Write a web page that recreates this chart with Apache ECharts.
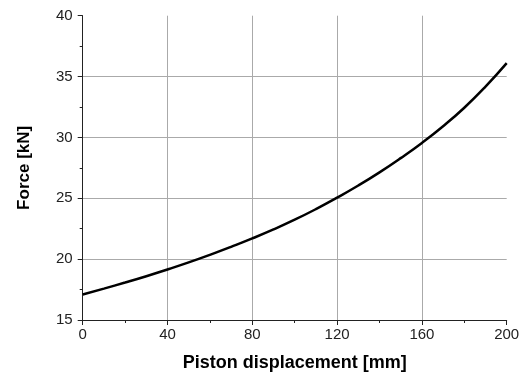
<!DOCTYPE html>
<html>
<head>
<meta charset="utf-8">
<script src="https://cdn.jsdelivr.net/npm/echarts@6/dist/echarts.min.js"></script>
<style>html,body{margin:0;padding:0;background:#fff}#c{width:527px;height:377px}</style>
</head>
<body>
<div id="c"></div>
<script>
const displacement = [0, 10, 20, 30, 40, 50, 60, 70, 80, 90, 100, 110, 120, 130, 140, 150, 160, 170, 180, 190, 200];
const force = [17.1, 17.58, 18.08, 18.6, 19.15, 19.73, 20.35, 21.01, 21.7, 22.44, 23.24, 24.11, 25.05, 26.05, 27.13, 28.3, 29.55, 30.92, 32.44, 34.17, 36.1];
const xTitle = 'Piston displacement [mm]';
const yTitle = 'Force [kN]';

const chart = echarts.init(document.getElementById('c'), null, {renderer: 'canvas'});
const axisCommon = {
  axisLine: {show: true, lineStyle: {color: '#222', width: 1}},
  axisTick: {show: true, inside: false, length: 5, lineStyle: {color: '#222', width: 1}},
  minorTick: {show: true, splitNumber: 2, length: 3, lineStyle: {color: '#222', width: 1}},
  splitLine: {show: true, showMinLine: false, showMaxLine: false, lineStyle: {color: '#aaa', width: 1}},
  nameLocation: 'middle',
  nameTextStyle: {fontFamily: 'Liberation Sans', fontWeight: 'bold', color: '#000'}
};
chart.setOption({
  animation: false,
  grid: {left: 82.7, right: 20.3, top: 15.7, bottom: 56, containLabel: false},
  xAxis: Object.assign({}, axisCommon, {
    type: 'value', min: 0, max: 200, interval: 40,
    name: xTitle, nameGap: 34,
    nameTextStyle: Object.assign({}, axisCommon.nameTextStyle, {fontSize: 18}),
    axisLabel: {margin: 7, fontFamily: 'Liberation Sans', fontSize: 15, color: '#222'}
  }),
  yAxis: Object.assign({}, axisCommon, {
    type: 'value', min: 15, max: 40, interval: 5,
    name: yTitle, nameGap: 50,
    nameTextStyle: Object.assign({}, axisCommon.nameTextStyle, {fontSize: 17}),
    axisLabel: {margin: 10, fontFamily: 'Liberation Sans', fontSize: 15, color: '#222'}
  }),
  series: [{
    type: 'line',
    data: displacement.map((x, i) => [x, force[i]]),
    smooth: true,
    showSymbol: false,
    lineStyle: {color: '#000', width: 2.5}
  }]
});
</script>
</body>
</html>
